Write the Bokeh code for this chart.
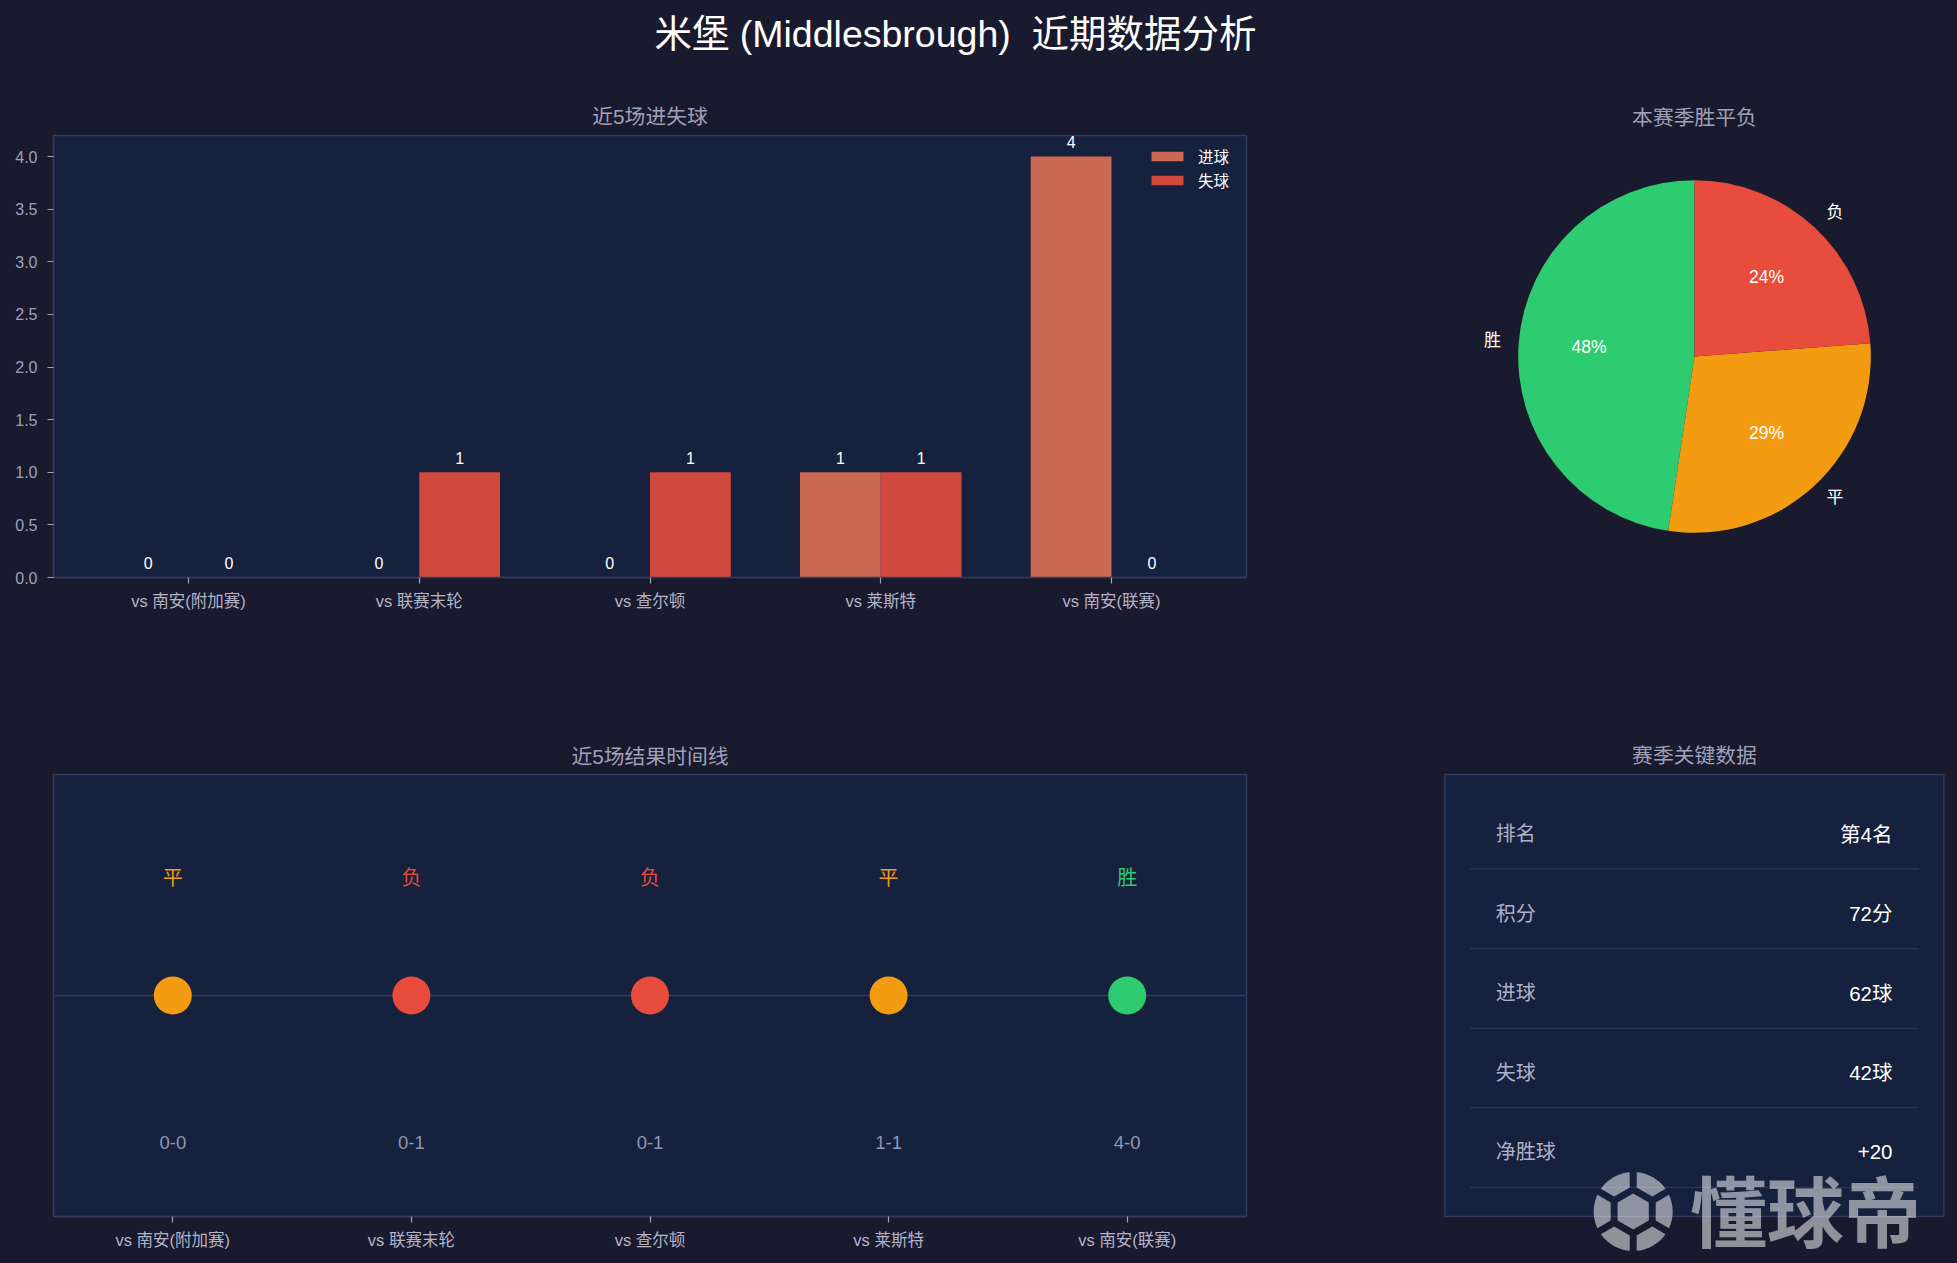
from math import sin, cos, asin, radians, pi

from bokeh.core.properties import value
from bokeh.embed import file_html
from bokeh.layouts import column, row
from bokeh.models import FixedTicker, NumeralTickFormatter, Range1d
from bokeh.plotting import figure
from bokeh.resources import INLINE

BG = "#1a1a2e"
PANEL = "#16213e"
SPINE = "#323a5e"
MUTED = "#a0a0b8"
FONT = "Liberation Sans, Noto Sans CJK SC"

# data
matches = ["vs 南安(附加赛)", "vs 联赛末轮", "vs 查尔顿", "vs 莱斯特", "vs 南安(联赛)"]
goals_for = [0, 0, 0, 1, 4]
goals_against = [0, 1, 1, 1, 0]
results = ["平", "负", "负", "平", "胜"]
scores = ["0-0", "0-1", "0-1", "1-1", "4-0"]

pie_labels = ["胜", "平", "负"]
pie_values = [20, 12, 10]

stat_names = ["排名", "积分", "进球", "失球", "净胜球"]
stat_values = ["第4名", "72分", "62球", "42球", "+20"]

result_colors = {"胜": "#2ecc71", "平": "#f39c12", "负": "#e74c3c"}
goals_color = "#cb6952"
against_color = "#d1483e"
bar_width = 0.35
idx = list(range(len(matches)))


def base_fig(w, h, title, x_range, y_range, left, right, top, bottom):
    p = figure(width=w, height=h, x_range=x_range, y_range=y_range, title=title,
               output_backend="svg", toolbar_location=None, tools="",
               min_border_left=left, min_border_right=right,
               min_border_top=top, min_border_bottom=bottom)
    p.frame_align = False
    p.background_fill_color = PANEL
    p.border_fill_color = BG
    p.outline_line_color = SPINE
    p.outline_line_width = 1.5
    p.grid.visible = False
    if title:
        p.title.align = "center"
        p.title.text_color = MUTED
        p.title.text_font = FONT
        p.title.text_font_size = "20.8px"
        p.title.text_font_style = "normal"
        p.title.standoff = 13
    return p


def style_axis(ax):
    ax.axis_line_color = SPINE
    ax.axis_line_width = 1.5
    ax.major_tick_line_color = MUTED
    ax.major_tick_line_width = 1.2
    ax.major_tick_out = 6
    ax.major_tick_in = 0
    ax.minor_tick_line_color = None
    ax.major_label_text_color = MUTED
    ax.major_label_text_font = FONT
    ax.major_label_text_font_size = "16px"


def match_axis(p):
    p.xaxis.ticker = FixedTicker(ticks=idx)
    p.xaxis.major_label_overrides = {i: m for i, m in zip(idx, matches)}
    style_axis(p.xaxis[0])
    p.xaxis.major_label_text_color = "#b4b4c8"
    p.xaxis.major_label_text_font_size = "16.5px"
    p.xaxis.major_label_standoff = 8


# page title
p0 = base_fig(1957, 60, None, Range1d(0, 1957), Range1d(60, 0), 0, 0, 0, 0)
p0.background_fill_color = BG
p0.outline_line_color = None
p0.axis.visible = False
p0.text([955], [33.7], text=["米堡 (Middlesbrough) \u00a0近期数据分析"], text_color="white",
        text_font=value(FONT), text_font_size="37.5px", text_align="center", text_baseline="middle")

# goals per match
p1 = base_fig(1410, 630, "近5场进失球", Range1d(-0.585, 4.585), Range1d(0, 4.2), 53, 164, 75, 113)
p1.title.standoff = 15
p1.vbar([i - bar_width / 2 for i in idx], top=goals_for, width=bar_width,
        fill_color=goals_color, line_color=None, legend_label="进球")
p1.vbar([i + bar_width / 2 for i in idx], top=goals_against, width=bar_width,
        fill_color=against_color, line_color=None, legend_label="失球")
p1.text([i - bar_width / 2 for i in idx], goals_for, text=[str(v) for v in goals_for],
        text_color="white", text_font=value(FONT), text_font_size="16px",
        text_align="center", text_baseline="bottom", y_offset=-8.5)
p1.text([i + bar_width / 2 for i in idx], goals_against, text=[str(v) for v in goals_against],
        text_color="white", text_font=value(FONT), text_font_size="16px",
        text_align="center", text_baseline="bottom", y_offset=-8.5)
match_axis(p1)
p1.yaxis.ticker = FixedTicker(ticks=[0, 0.5, 1, 1.5, 2, 2.5, 3, 3.5, 4])
p1.yaxis.formatter = NumeralTickFormatter(format="0.0")
style_axis(p1.yaxis[0])
p1.yaxis.major_label_standoff = 10
p1.legend.location = (1082, 374)
p1.legend.background_fill_alpha = 0
p1.legend.border_line_alpha = 0
p1.legend.label_text_color = "white"
p1.legend.label_text_font = FONT
p1.legend.label_text_font_size = "15.5px"
p1.legend.glyph_width = 40
p1.legend.glyph_height = 12
p1.legend.label_height = 12
p1.legend.label_standoff = 11
p1.legend.spacing = 2
p1.legend.margin = 0
p1.legend.padding = 12

# season pie
total = sum(pie_values)
p2 = base_fig(547, 630, "本赛季胜平负", Range1d(-1.384, 1.384), Range1d(-1.254, 1.254), 40, 19, 75, 113)
p2.title.standoff = 14
p2.background_fill_color = BG
p2.outline_line_color = None
p2.axis.visible = False
angle = pi / 2
starts, ends, mids = [], [], []
for v in pie_values:
    sweep = 2 * pi * v / total
    starts.append(angle)
    ends.append(angle + sweep)
    mids.append(angle + sweep / 2)
    angle += sweep
p2.wedge(0, 0, radius=1.0, start_angle=starts, end_angle=ends, direction="anticlock",
         fill_color=[result_colors[k] for k in pie_labels], line_color=None)
for lab, a in zip(pie_labels, mids):
    p2.text([1.1 * cos(a)], [1.1 * sin(a)], text=[lab], text_color="white",
            text_font=value(FONT), text_font_size="17px", text_baseline="middle",
            text_align="left" if cos(a) > 0 else "right", y_offset=-1.5)
p2.text([0.6 * cos(a) for a in mids], [0.6 * sin(a) for a in mids],
        text=[f"{v / total:.0%}" for v in pie_values], text_color="white",
        text_font=value(FONT), text_font_size="17.5px",
        text_align="center", text_baseline="middle", y_offset=-1.5)

# result timeline
p3 = base_fig(1410, 573, "近5场结果时间线", Range1d(-0.5, 4.5), Range1d(-1.5, 1.5), 53, 164, 84, 47)
p3.line([-0.5, 4.5], [0, 0], line_color=SPINE, line_width=1.5)
p3.scatter(idx, [0] * len(idx), size=38, marker="circle",
           fill_color=[result_colors[r] for r in results], line_color=None)
p3.text(idx, [0.8] * len(idx), text=results, text_color=[result_colors[r] for r in results],
        text_font=value(FONT), text_font_size="20px", text_align="center", text_baseline="middle")
p3.text(idx, [-1.0] * len(idx), text=scores, text_color="#8f96b4",
        text_font=value(FONT), text_font_size="18.5px", text_align="center", text_baseline="middle")
match_axis(p3)
p3.yaxis.visible = False

# key numbers: the frame is wider than the panel box so the watermark can run past it
PX_X, PX_Y = 1 / 499, 1 / 442
p4 = base_fig(547, 573, "赛季关键数据",
              Range1d((1431 - 1444.4) * PX_X, (1957 - 1444.4) * PX_X),
              Range1d((1216 - 1263) * PX_Y, (1216 - 770) * PX_Y), 21, 0, 80, 0)
p4.background_fill_color = BG
p4.outline_line_color = None
p4.axis.visible = False
p4.title.standoff = 8
p4.quad(left=0, right=1, bottom=0, top=1, fill_color=PANEL, line_color=SPINE, line_width=1.5)
row_y = [0.865 - 0.18 * i for i in range(len(stat_names))]
p4.text([0.102] * len(row_y), row_y, text=stat_names, text_color="#b0b0c8",
        text_font=value(FONT), text_font_size="20px", text_align="left", text_baseline="middle")
p4.text([0.897] * len(row_y), row_y, text=stat_values, text_color="white",
        text_font=value(FONT), text_font_size="20.5px", text_align="right", text_baseline="middle")
for y in row_y:
    p4.line([0.05, 0.95], [y - 0.079, y - 0.079], line_color=SPINE, line_width=1)

# watermark
logo_x, logo_y = (1632.7 - 1444.4) * PX_X, (1216 - 1211) * PX_Y
R_OUT, FLAT, HALF = 39.5, 22.5, 9
delta = asin(3.5 / R_OUT)
parts = [[(18 * cos(radians(30 + 60 * k)), 18 * sin(radians(30 + 60 * k))) for k in range(6)]]
for k in range(6):
    mid = radians(60 * k)
    arc = [mid - radians(30) + delta + j * (radians(60) - 2 * delta) / 10 for j in range(11)]
    pts = [(R_OUT * cos(a), R_OUT * sin(a)) for a in arc]
    for lat in (HALF, -HALF):
        pts.append((FLAT * cos(mid) - lat * sin(mid), FLAT * sin(mid) + lat * cos(mid)))
    parts.append(pts)
p4.patches([[logo_x + px * PX_X for px, py in pts] for pts in parts],
           [[logo_y + py * PX_Y for px, py in pts] for pts in parts],
           fill_color="white", fill_alpha=0.52, line_color=None)
p4.text([(1805 - 1444.4) * PX_X], [(1216 - 1208) * PX_Y], text=["懂球帝"],
        text_color="white", text_alpha=0.52, text_font=value("Noto Sans CJK SC"),
        text_font_size="77px", text_font_style="bold",
        text_align="center", text_baseline="middle")

page = column(p0, row(p1, p2, spacing=0), row(p3, p4, spacing=0), spacing=0)
html = file_html(page, INLINE).replace("<head>", f"<head><style>body{{background:{BG};}}</style>", 1)
open("out.html", "w").write(html)
